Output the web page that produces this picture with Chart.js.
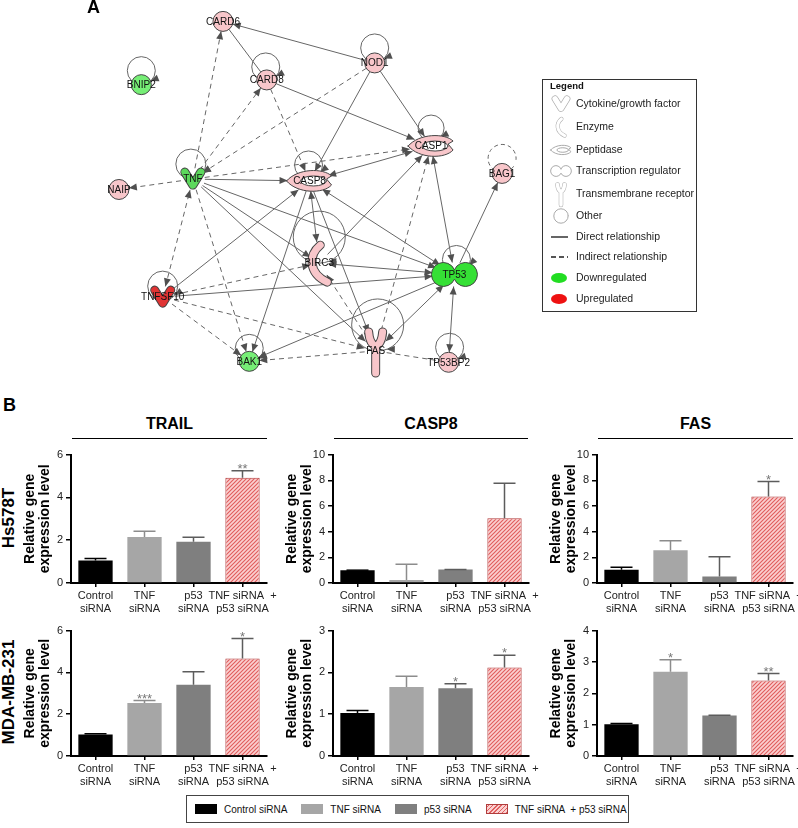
<!DOCTYPE html>
<html>
<head>
<meta charset="utf-8">
<title>Network and siRNA expression</title>
<script src="https://cdn.jsdelivr.net/npm/chart.js@4.4.1/dist/chart.umd.min.js"></script>
<style>
  body { margin: 0; background: #fff; }
  #fig { position: relative; width: 798px; height: 828px; overflow: hidden; font-family: "Liberation Sans", Arial, sans-serif; color: #000; }
  .abs { position: absolute; }
  .panel { font-weight: bold; font-size: 18px; line-height: 20px; }
  .gtitle { font-weight: bold; font-size: 16px; line-height: 20px; text-align: center; border-bottom: 1px solid #000; height: 24px; }
  .rowlab { font-weight: bold; font-size: 17px; line-height: 20px; width: 140px; text-align: center; transform: rotate(-90deg); }
  #leg { left: 186px; top: 795px; width: 443px; height: 28px; border: 1px solid #444; box-sizing: border-box;
         font-size: 10px; display: flex; align-items: center; padding-left: 8px; color: #111; }
  #leg .sw { width: 22px; height: 10px; margin-right: 7px; box-sizing: border-box; }
  #leg .it { display: flex; align-items: center; margin-right: 14px; white-space: pre; }
</style>
</head>
<body>
<div id="fig">
  <canvas id="net" class="abs" width="798" height="395" style="left:0;top:0"></canvas>
  <div class="abs panel" style="left:87px;top:-3px">A</div>
  <div class="abs panel" style="left:3px;top:395px">B</div>

  <div class="abs gtitle" style="left:72px;top:414px;width:195px">TRAIL</div>
  <div class="abs gtitle" style="left:334px;top:414px;width:194px">CASP8</div>
  <div class="abs gtitle" style="left:598px;top:414px;width:195px">FAS</div>

  <div class="abs rowlab" style="left:-61px;top:508px">Hs578T</div>
  <div class="abs rowlab" style="left:-61px;top:682px">MDA-MB-231</div>

  <canvas id="c1" class="abs" width="265" height="174" style="left:16px;top:445px"></canvas>
  <canvas id="c2" class="abs" width="265" height="174" style="left:278px;top:445px"></canvas>
  <canvas id="c3" class="abs" width="265" height="174" style="left:542px;top:445px"></canvas>
  <canvas id="c4" class="abs" width="265" height="171" style="left:16px;top:621px"></canvas>
  <canvas id="c5" class="abs" width="265" height="171" style="left:278px;top:621px"></canvas>
  <canvas id="c6" class="abs" width="265" height="171" style="left:542px;top:621px"></canvas>

  <div id="leg" class="abs">
    <div class="it"><div class="sw" style="background:#000"></div>Control siRNA</div>
    <div class="it"><div class="sw" style="background:#a6a6a6"></div>TNF siRNA</div>
    <div class="it"><div class="sw" style="background:#7f7f7f"></div>p53 siRNA</div>
    <div class="it"><div class="sw" style="border:1px solid #b03c3c;background:repeating-linear-gradient(-45deg,#e06060 0 1px,#fbd0d0 1px 3px)"></div>TNF siRNA  + p53 siRNA</div>
  </div>
</div>

<script>
var FONT = '"Liberation Sans", Arial, sans-serif';

// ---- panel A: network ----
var netNames = ['CARD6', 'NOD1', 'BNIP2', 'CARD8', 'CASP1', 'TNF', 'NAIP', 'CASP8', 'BAG1', 'BIRC3', 'TP53', 'TNFSF10', 'BAK1', 'FAS', 'TP53BP2'];
var netX = [218, 374, 134, 263, 432, 187, 111, 307, 505, 317, 456, 156, 245, 375, 450];
var netY = [11, 55, 78, 73, 143, 178, 189, 180, 172, 267, 279, 303, 371, 360, 372];
var netType = ['other', 'other', 'other', 'other', 'peptidase', 'cytokine', 'other', 'peptidase', 'other', 'enzyme', 'transcription', 'cytokine', 'other', 'receptor', 'other'];
var netColor = ['pink', 'pink', 'lightgreen', 'pink', 'pink', 'midgreen', 'pink', 'pink', 'pink', 'pink', 'green', 'red', 'lightgreen', 'pink', 'pink'];

var edgeFrom = ['NOD1', 'CARD6', 'TNF', 'TNF', 'NOD1', 'CARD8', 'CARD8', 'NOD1', 'NOD1', 'TNF', 'TNF', 'TNF', 'TNF', 'TNF', 'TNF', 'TNF', 'TNFSF10',
                'CASP8', 'CASP8', 'CASP8', 'CASP8', 'TP53', 'BIRC3', 'TNFSF10', 'TNFSF10', 'TNFSF10', 'TNFSF10', 'TNFSF10', 'FAS', 'FAS', 'FAS', 'FAS',
                'TP53', 'TP53', 'TP53', 'TP53', 'BIRC3', 'FAS'];
var edgeTo = ['CARD6', 'CARD8', 'CARD6', 'CARD8', 'TNF', 'CASP8', 'CASP1', 'CASP1', 'CASP8', 'CASP1', 'CASP8', 'NAIP', 'BIRC3', 'TP53', 'FAS', 'BAK1', 'TNF',
              'CASP1', 'BIRC3', 'FAS', 'BAK1', 'CASP8', 'CASP1', 'CASP8', 'TP53', 'BIRC3', 'FAS', 'BAK1', 'CASP1', 'TP53', 'BAK1', 'BIRC3',
              'CASP1', 'BAG1', 'TP53BP2', 'BAK1', 'TP53', 'TP53BP2'];
var edgeDashed = [0, 0, 1, 1, 1, 1, 0, 0, 0, 1, 0, 1, 0, 0, 0, 1, 1,
                  0, 0, 0, 0, 0, 0, 0, 0, 1, 1, 1, 1, 0, 1, 1,
                  0, 0, 0, 0, 0, 1];
var edgeHeads = ['to', 'none', 'to', 'to', 'to', 'to', 'to', 'to', 'to', 'to', 'to', 'to', 'to', 'to', 'to', 'to', 'both',
                 'both', 'both', 'to', 'to', 'both', 'to', 'to', 'to', 'to', 'to', 'to', 'to', 'both', 'to', 'to',
                 'both', 'to', 'both', 'to', 'both', 'none'];

var loopNode = ['BNIP2', 'CARD8', 'NOD1', 'TNF', 'CASP8', 'CASP1', 'BIRC3', 'TNFSF10', 'BAK1', 'FAS', 'TP53', 'TP53BP2', 'BAG1'];
var loopDashed = [0, 0, 0, 0, 0, 0, 0, 0, 0, 0, 0, 0, 1];

var legendItems = ['Cytokine/growth factor', 'Enzyme', 'Peptidase', 'Transcription regulator', 'Transmembrane receptor', 'Other',
                   'Direct relationship', 'Indirect relationship', 'Downregulated', 'Upregulated'];

// ---- panel B: qPCR bars ----
var seriesNames = ['Control siRNA', 'TNF siRNA', 'p53 siRNA', 'TNF siRNA + p53 siRNA'];
var tickLabels = [['Control', 'siRNA'], ['TNF', 'siRNA'], ['p53', 'siRNA'], ['TNF siRNA  +', 'p53 siRNA']];

var hsTrail = [1.05, 2.15, 1.93, 4.92];
var hsTrailSem = [0.09, 0.27, 0.21, 0.33];
var hsTrailStars = ['', '', '', '**'];

var hsCasp8 = [1.0, 0.24, 1.05, 5.05];
var hsCasp8Sem = [0, 1.22, 0, 2.72];
var hsCasp8Stars = ['', '', '', ''];

var hsFas = [1.03, 2.56, 0.51, 6.74];
var hsFasSem = [0.2, 0.74, 1.54, 1.16];
var hsFasStars = ['', '', '', '*'];

var mdaTrail = [1.03, 2.53, 3.41, 4.66];
var mdaTrailSem = [0.03, 0.12, 0.62, 0.96];
var mdaTrailStars = ['', '***', '', '*'];

var mdaCasp8 = [1.03, 1.65, 1.62, 2.12];
var mdaCasp8Sem = [0.06, 0.26, 0.11, 0.29];
var mdaCasp8Stars = ['', '', '*', '*'];

var mdaFas = [1.01, 2.69, 1.29, 2.41];
var mdaFasSem = [0.03, 0.38, 0.01, 0.22];
var mdaFasStars = ['', '*', '', '**'];

// ---- styles ----
var fillOf = { pink: '#f8c6ca', green: '#35e035', lightgreen: '#76ee76', midgreen: '#5cd85c', red: '#e03434' };
var shapeSize = { other: [10, 10], peptidase: [22, 10], cytokine: [12, 11], enzyme: [9, 22], transcription: [22, 12], receptor: [11, 24] };
var loopGeom = { BNIP2: [0, -14, 14], CARD8: [-1, -13, 14], NOD1: [0, -15, 14], TNF: [-2, -15, 15], CASP8: [-1, -16, 14],
                 CASP1: [0, -18, 13], BIRC3: [0, -26, 26], TNFSF10: [0, -11, 15], BAK1: [0, -13, 14], FAS: [2, -26, 26],
                 TP53: [2, -15, 14], TP53BP2: [1, -15, 14], BAG1: [0, -15, 14] };

var idx = {};
netNames.forEach(function(n, i) { idx[n] = i; });

function drawShape(ctx, type, cx, cy, s, fill, stroke) {
    ctx.save();
    ctx.translate(cx, cy);
    ctx.scale(s, s);
    ctx.setLineDash([]);
    ctx.fillStyle = fill;
    ctx.strokeStyle = stroke;
    ctx.lineWidth = 1 / s;
    ctx.lineCap = 'round';
    ctx.lineJoin = 'round';
    if (type === 'other') {
        ctx.beginPath(); ctx.arc(0, 0, 10, 0, 2 * Math.PI); ctx.fill(); ctx.stroke();
    } else if (type === 'peptidase') {
        ctx.beginPath();
        ctx.moveTo(-23, 0);
        ctx.bezierCurveTo(-12, -13, 14, -13, 22, -5);
        ctx.lineTo(17, -2);
        ctx.lineTo(22, 4);
        ctx.bezierCurveTo(14, 13, -12, 13, -23, 0);
        ctx.closePath();
        ctx.fill(); ctx.stroke();
        ctx.fillStyle = '#fff';
        ctx.beginPath(); ctx.ellipse(4, 0, 13, 5, 0, 0, 2 * Math.PI); ctx.fill(); ctx.stroke();
    } else if (type === 'transcription') {
        ctx.beginPath();
        ctx.arc(-11, 0, 12, -0.41, 0.41, true);
        ctx.arc(11, 0, 12, Math.PI - 0.41, Math.PI + 0.41, true);
        ctx.closePath();
        ctx.fill(); ctx.stroke();
    } else {
        var path = new Path2D();
        if (type === 'cytokine') {
            path.moveTo(-8, -7); path.lineTo(0, 6); path.lineTo(8, -7);
        } else if (type === 'enzyme') {
            path.moveTo(1, -18); path.bezierCurveTo(-11, -8, -11, 10, 8, 19);
        } else {
            path.moveTo(-7, -19); path.quadraticCurveTo(-6, -7, 0, -5);
            path.moveTo(7, -19); path.quadraticCurveTo(6, -7, 0, -5);
            path.moveTo(0, -5); path.lineTo(0, 22);
        }
        ctx.lineWidth = 9;
        ctx.strokeStyle = stroke;
        ctx.stroke(path);
        ctx.lineWidth = 7;
        ctx.strokeStyle = fill;
        ctx.stroke(path);
    }
    ctx.restore();
}

function arrowHead(ctx, x, y, ang) {
    ctx.beginPath();
    ctx.moveTo(x, y);
    ctx.lineTo(x - 8 * Math.cos(ang) + 3.5 * Math.sin(ang), y - 8 * Math.sin(ang) - 3.5 * Math.cos(ang));
    ctx.lineTo(x - 8 * Math.cos(ang) - 3.5 * Math.sin(ang), y - 8 * Math.sin(ang) + 3.5 * Math.cos(ang));
    ctx.closePath();
    ctx.fill();
}

function boundary(i, cx, cy, tx, ty) {
    var s = shapeSize[netType[i]];
    var dx = tx - cx, dy = ty - cy;
    var d = Math.sqrt((dx / s[0]) * (dx / s[0]) + (dy / s[1]) * (dy / s[1])) || 1;
    return [cx + dx / d, cy + dy / d];
}

var netPlugin = {
    id: 'net',
    beforeDatasetsDraw: function(chart) {
        var ctx = chart.ctx, xs = chart.scales.x, ys = chart.scales.y;
        function P(i) { return [xs.getPixelForValue(netX[i]), ys.getPixelForValue(netY[i])]; }
        ctx.save();
        ctx.strokeStyle = '#666';
        ctx.fillStyle = '#505050';
        ctx.lineWidth = 1;

        loopNode.forEach(function(name, k) {
            var i = idx[name], g = loopGeom[name], p = P(i);
            var lx = p[0] + g[0], ly = p[1] + g[1], r = g[2];
            ctx.setLineDash(loopDashed[k] ? [4, 3] : []);
            ctx.beginPath();
            if (loopDashed[k]) ctx.arc(lx, ly, r, 0.6, Math.PI * 2 + 0.1);
            else ctx.arc(lx, ly, r, 0, 2 * Math.PI);
            ctx.stroke();
            if (!loopDashed[k]) {
                var s = shapeSize[netType[i]];
                for (var a = Math.PI / 2; a > -Math.PI / 2; a -= 0.02) {
                    var qx = lx + r * Math.cos(a), qy = ly + r * Math.sin(a);
                    var ex = (qx - p[0]) / s[0], ey = (qy - p[1]) / s[1];
                    if (ex * ex + ey * ey > 1) {
                        arrowHead(ctx, qx, qy, a + Math.PI / 2 + 0.35);
                        break;
                    }
                }
            }
        });

        edgeFrom.forEach(function(f, k) {
            var a = idx[f], b = idx[edgeTo[k]];
            var pa = P(a), pb = P(b);
            var s = boundary(a, pa[0], pa[1], pb[0], pb[1]);
            var e = boundary(b, pb[0], pb[1], pa[0], pa[1]);
            ctx.setLineDash(edgeDashed[k] ? [5, 4] : []);
            ctx.beginPath();
            ctx.moveTo(s[0], s[1]);
            ctx.lineTo(e[0], e[1]);
            ctx.stroke();
            ctx.setLineDash([]);
            var ang = Math.atan2(e[1] - s[1], e[0] - s[0]);
            if (edgeHeads[k] !== 'none') arrowHead(ctx, e[0], e[1], ang);
            if (edgeHeads[k] === 'both') arrowHead(ctx, s[0], s[1], ang + Math.PI);
        });
        ctx.restore();
    },
    afterDatasetsDraw: function(chart) {
        var ctx = chart.ctx, xs = chart.scales.x, ys = chart.scales.y;
        netNames.forEach(function(n, i) {
            if (netType[i] !== 'other') {
                drawShape(ctx, netType[i], xs.getPixelForValue(netX[i]), ys.getPixelForValue(netY[i]), 1, fillOf[netColor[i]], '#444');
            }
        });
        ctx.save();
        ctx.fillStyle = '#111';
        ctx.font = '10px ' + FONT;
        ctx.textAlign = 'center';
        ctx.textBaseline = 'middle';
        netNames.forEach(function(n, i) {
            ctx.fillText(n, xs.getPixelForValue(netX[i]), ys.getPixelForValue(netY[i]) + 0.5);
        });

        // legend box
        ctx.strokeStyle = '#333';
        ctx.lineWidth = 1;
        ctx.strokeRect(542.5, 79.5, 154, 232);
        ctx.textAlign = 'left';
        ctx.font = 'bold 9.5px ' + FONT;
        ctx.fillText('Legend', 550, 86);
        ctx.font = '10.5px ' + FONT;
        ctx.fillStyle = '#222';
        var rowY = [104, 127, 150, 171, 194, 216, 237, 257, 278, 299];
        var icons = ['cytokine', 'enzyme', 'peptidase', 'transcription', 'receptor', 'other'];
        legendItems.forEach(function(t, k) {
            ctx.fillText(t, 576, rowY[k] + 0.5);
            if (k < 6) {
                var sc = [0.75, 0.45, 0.45, 0.45, 0.5, 0.72][k];
                drawShape(ctx, icons[k], 561, rowY[k], sc, '#fff', '#aaa');
            } else if (k < 8) {
                ctx.save();
                ctx.strokeStyle = '#555';
                ctx.lineWidth = 1.8;
                ctx.setLineDash(k === 7 ? [5, 3] : []);
                ctx.beginPath(); ctx.moveTo(551, rowY[k]); ctx.lineTo(568, rowY[k]); ctx.stroke();
                ctx.restore();
            } else {
                ctx.save();
                ctx.fillStyle = k === 8 ? '#22dd22' : '#ee1111';
                ctx.beginPath(); ctx.ellipse(559, rowY[k], 8, 5, 0, 0, 2 * Math.PI); ctx.fill();
                ctx.restore();
            }
        });
        ctx.restore();
    }
};

new Chart(document.getElementById('net'), {
    type: 'scatter',
    data: {
        datasets: [{
            data: netX.map(function(x, i) { return { x: x, y: netY[i] }; }),
            pointRadius: netType.map(function(t) { return t === 'other' ? 10 : 0; }),
            pointBackgroundColor: netColor.map(function(c) { return fillOf[c]; }),
            pointBorderColor: '#444',
            pointBorderWidth: 1
        }]
    },
    options: {
        responsive: false,
        animation: false,
        events: [],
        layout: { padding: 0 },
        plugins: { legend: { display: false }, tooltip: { enabled: false } },
        scales: {
            x: { type: 'linear', min: 0, max: 798, display: false },
            y: { type: 'linear', min: 0, max: 395, reverse: true, display: false }
        }
    },
    plugins: [netPlugin]
});

// ---- bar charts ----
function hatchPattern(ctx) {
    var c = document.createElement('canvas');
    c.width = 4; c.height = 4;
    var x = c.getContext('2d');
    x.fillStyle = '#fbd0d0';
    x.fillRect(0, 0, 4, 4);
    x.strokeStyle = '#e05c5c';
    x.lineWidth = 1.1;
    x.beginPath();
    x.moveTo(0, 4); x.lineTo(4, 0);
    x.moveTo(-2, 2); x.lineTo(2, -2);
    x.moveTo(2, 6); x.lineTo(6, 2);
    x.stroke();
    return ctx.createPattern(c, 'repeat');
}

var errColors = ['#000', '#8c8c8c', '#5c5c5c', '#5c5c5c'];

var errPlugin = {
    id: 'err',
    afterDatasetsDraw: function(chart) {
        var ctx = chart.ctx, ys = chart.scales.y, ds = chart.data.datasets[0];
        var meta = chart.getDatasetMeta(0);
        ctx.save();
        meta.data.forEach(function(bar, i) {
            var top = ys.getPixelForValue(ds.data[i] + ds.sem[i]);
            ctx.strokeStyle = errColors[i];
            ctx.lineWidth = 1.5;
            ctx.beginPath();
            ctx.moveTo(bar.x, bar.y);
            ctx.lineTo(bar.x, top);
            ctx.moveTo(bar.x - 11, top);
            ctx.lineTo(bar.x + 11, top);
            ctx.stroke();
            if (ds.stars[i]) {
                ctx.fillStyle = '#777';
                ctx.font = '13px ' + FONT;
                ctx.textAlign = 'center';
                ctx.textBaseline = 'alphabetic';
                ctx.fillText(ds.stars[i], bar.x, top + 2);
            }
        });
        ctx.restore();
    }
};

function barChart(id, vals, sems, stars, yMax, yStep) {
    var canvas = document.getElementById(id);
    var ctx = canvas.getContext('2d');
    return new Chart(canvas, {
        type: 'bar',
        data: {
            labels: tickLabels,
            datasets: [{
                label: 'expression',
                data: vals,
                sem: sems,
                stars: stars,
                backgroundColor: ['#000', '#a6a6a6', '#7f7f7f', hatchPattern(ctx)],
                borderColor: ['#000', '#a6a6a6', '#7f7f7f', '#b03c3c'],
                borderWidth: [0, 0, 0, 1],
                borderSkipped: 'bottom',
                barPercentage: 0.7,
                categoryPercentage: 1
            }]
        },
        options: {
            responsive: false,
            animation: false,
            events: [],
            layout: { padding: { top: 8, right: 14, bottom: 0, left: 0 } },
            plugins: { legend: { display: false }, tooltip: { enabled: false } },
            scales: {
                x: {
                    grid: { drawOnChartArea: false, tickLength: 4, color: '#000', lineWidth: 1.5, offset: false },
                    border: { color: '#000', width: 2 },
                    ticks: { color: '#222', font: { size: 11, family: FONT }, padding: 2, autoSkip: false, maxRotation: 0 },
                    afterFit: function(s) { s.height = 36; }
                },
                y: {
                    min: 0,
                    max: yMax,
                    ticks: { stepSize: yStep, color: '#222', font: { size: 11, family: FONT }, padding: 3 },
                    grid: { drawOnChartArea: false, tickLength: 5, color: '#000', lineWidth: 1.5 },
                    border: { color: '#000', width: 2 },
                    title: {
                        display: true,
                        text: ['Relative gene', 'expression level'],
                        color: '#000',
                        font: { size: 14, weight: 'bold', family: FONT, lineHeight: 1.05 },
                        padding: { top: 7, bottom: 0 }
                    },
                    afterFit: function(s) { s.width = 55; }
                }
            }
        },
        plugins: [errPlugin]
    });
}

barChart('c1', hsTrail, hsTrailSem, hsTrailStars, 6, 2);
barChart('c2', hsCasp8, hsCasp8Sem, hsCasp8Stars, 10, 2);
barChart('c3', hsFas, hsFasSem, hsFasStars, 10, 2);
barChart('c4', mdaTrail, mdaTrailSem, mdaTrailStars, 6, 2);
barChart('c5', mdaCasp8, mdaCasp8Sem, mdaCasp8Stars, 3, 1);
barChart('c6', mdaFas, mdaFasSem, mdaFasStars, 4, 1);
</script>
</body>
</html>
